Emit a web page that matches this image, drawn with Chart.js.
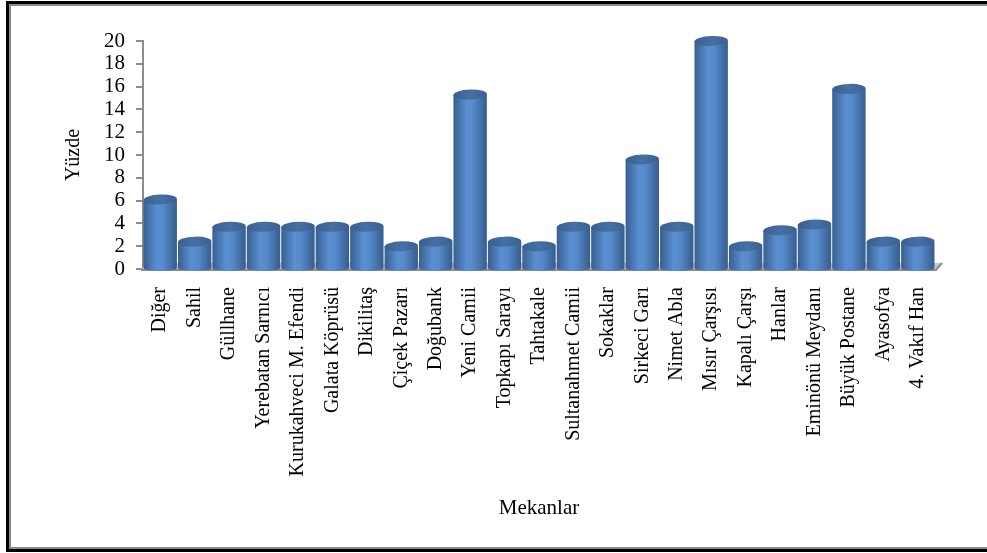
<!DOCTYPE html>
<html>
<head>
<meta charset="utf-8">
<script src="https://cdn.jsdelivr.net/npm/chart.js@4"></script>
<style>
  html, body { margin: 0; padding: 0; background: #fff; }
  #wrap { position: relative; width: 987px; height: 553px; overflow: hidden; }
  #frame {
    position: absolute; left: 6px; top: 1px; width: 990px; height: 551px;
    border-left: 3px solid #000; border-top: 3px solid #000; border-bottom: 3px solid #000;
    box-shadow: inset 2px 2px 0 #8a8a8a, inset 0 -2px 0 #8a8a8a;
    box-sizing: border-box;
  }
  canvas { position: absolute; left: 0; top: 0; }
</style>
</head>
<body>
<div id="wrap">
  <div id="frame"></div>
  <canvas id="placesChart" width="987" height="553"></canvas>
</div>
<script>
// places (Mekanlar) and their share in percent (Yüzde)
const places = [
  'Diğer', 'Sahil', 'Güllhane', 'Yerebatan Sarnıcı', 'Kurukahveci M. Efendi',
  'Galata Köprüsü', 'Dikilitaş', 'Çiçek Pazarı', 'Doğubank', 'Yeni Camii',
  'Topkapı Sarayı', 'Tahtakale', 'Sultanahmet Camii', 'Sokaklar', 'Sirkeci Garı',
  'Nimet Abla', 'Mısır Çarşısı', 'Kapalı Çarşı', 'Hanlar', 'Eminönü Meydanı',
  'Büyük Postane', 'Ayasofya', '4. Vakıf Han'
];
const percents = [
  6.1, 2.4, 3.7, 3.7, 3.7,
  3.7, 3.7, 2.0, 2.4, 15.3,
  2.4, 2.0, 3.7, 3.7, 9.6,
  3.7, 20.0, 2.0, 3.4, 3.9,
  15.8, 2.4, 2.4
];
const yMin = 0, yMax = 20, yStep = 2;

const serif = "'Liberation Serif', 'Times New Roman', serif";

// grey floor under the bars
const floorPlugin = {
  id: 'floor',
  beforeDatasetsDraw(chart) {
    const { ctx, chartArea } = chart;
    const b = chart.scales.y.getPixelForValue(0);
    ctx.save();
    ctx.fillStyle = '#c8c8c8';
    ctx.beginPath();
    ctx.moveTo(chartArea.left - 2, b + 1);
    ctx.lineTo(chartArea.right + 1, b + 1);
    ctx.lineTo(chartArea.right + 7, b - 6);
    ctx.lineTo(chartArea.left + 3, b - 6);
    ctx.closePath();
    ctx.fill();
    ctx.strokeStyle = '#8c8c8c';
    ctx.lineWidth = 2;
    ctx.beginPath();
    ctx.moveTo(chartArea.left - 2, b + 1);
    ctx.lineTo(chartArea.right + 1, b + 1);
    ctx.lineTo(chartArea.right + 7, b - 6);
    ctx.stroke();
    ctx.restore();
  }
};

function bodyGradient(ctx, bar) {
  const half = bar.width / 2;
  const g = ctx.createLinearGradient(bar.x - half, 0, bar.x + half, 0);
  g.addColorStop(0, '#385f90');
  g.addColorStop(0.4, '#5a8fd2');
  g.addColorStop(0.6, '#5589ca');
  g.addColorStop(1, '#365d8c');
  return g;
}

// cylinder look: shaded body, rounded base and elliptic top
const cylinderPlugin = {
  id: 'cylinder',
  beforeDatasetsDraw(chart) {
    const ctx = chart.ctx;
    chart.getDatasetMeta(0).data.forEach(bar => {
      bar.options.backgroundColor = bodyGradient(ctx, bar);
    });
  },
  afterDatasetsDraw(chart) {
    const ctx = chart.ctx;
    chart.getDatasetMeta(0).data.forEach(bar => {
      const half = bar.width / 2;
      ctx.save();
      ctx.fillStyle = bodyGradient(ctx, bar);
      ctx.beginPath();
      ctx.ellipse(bar.x, bar.base, half, 3, 0, 0, Math.PI);
      ctx.fill();
      const cap = ctx.createLinearGradient(bar.x - half, 0, bar.x + half, 0);
      cap.addColorStop(0, '#385f90');
      cap.addColorStop(0.5, '#4670a4');
      cap.addColorStop(1, '#3a6192');
      ctx.fillStyle = cap;
      ctx.beginPath();
      ctx.ellipse(bar.x, bar.y, half, 5, -0.04, 0, Math.PI * 2);
      ctx.fill();
      ctx.restore();
    });
  }
};

new Chart(document.getElementById('placesChart'), {
  type: 'bar',
  data: {
    labels: places,
    datasets: [{
      label: 'Yüzde',
      data: percents,
      // scriptable so every bar keeps its own options object
      backgroundColor: () => '#4f81bd',
      borderWidth: 0,
      barPercentage: 0.97,
      categoryPercentage: 1.0
    }]
  },
  options: {
    responsive: false,
    animation: false,
    events: [],
    layout: { padding: { left: 10, right: 52, top: 41, bottom: 26 } },
    plugins: {
      legend: { display: false },
      tooltip: { enabled: false }
    },
    scales: {
      x: {
        grid: { display: false, drawTicks: false },
        border: { display: false },
        ticks: {
          autoSkip: false,
          minRotation: 90,
          maxRotation: 90,
          padding: 18,
          color: '#000',
          font: { family: serif, size: 20 }
        },
        title: {
          display: true,
          text: 'Mekanlar',
          color: '#000',
          padding: { top: 0, bottom: 6 },
          font: { family: serif, size: 21 }
        },
        afterFit(scale) { scale.height = 258; }
      },
      y: {
        min: yMin,
        max: yMax,
        ticks: {
          stepSize: yStep,
          autoSkip: false,
          padding: 11,
          color: '#000',
          font: { family: serif, size: 21 }
        },
        grid: { drawOnChartArea: false, drawTicks: true, tickLength: 7, color: '#8c8c8c', lineWidth: 2 },
        border: { display: true, color: '#8c8c8c', width: 2 },
        title: {
          display: true,
          text: 'Yüzde',
          color: '#000',
          padding: { top: 52, bottom: 0 },
          font: { family: serif, size: 20 }
        },
        afterFit(scale) { scale.width = 133; }
      }
    }
  },
  plugins: [floorPlugin, cylinderPlugin]
});
</script>
</body>
</html>
